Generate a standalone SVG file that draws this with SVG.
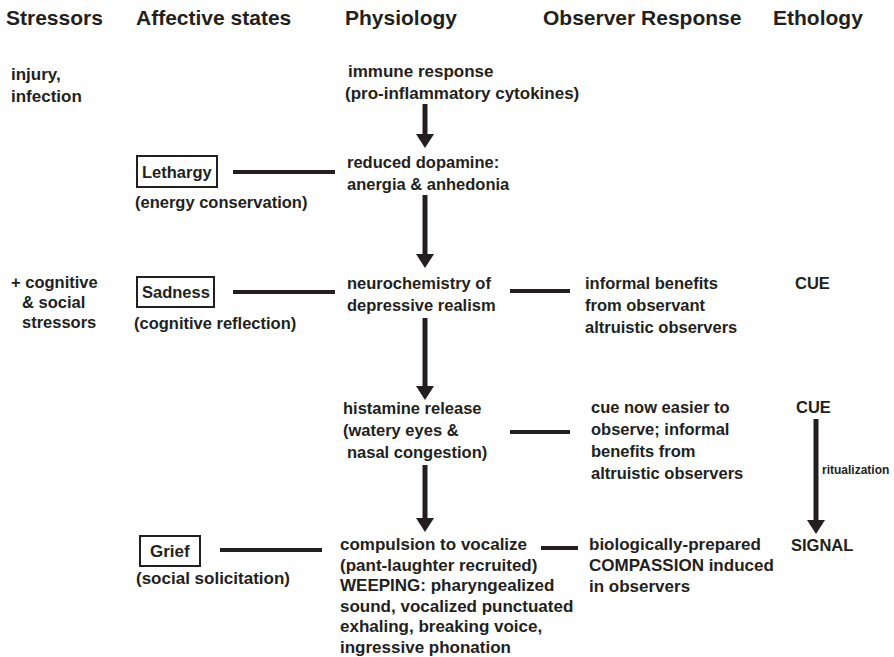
<svg xmlns="http://www.w3.org/2000/svg" width="894" height="657" viewBox="0 0 894 657">
<style>
text{font-family:"Liberation Sans",Arial,Helvetica,sans-serif;font-weight:bold;fill:#231f20}
.h{font-size:21px}
.t{font-size:16.5px}
.c{font-size:17px}
.s{font-size:12px}
.ln{stroke:#231f20;stroke-width:4;fill:none}
.ar{stroke:#231f20;stroke-width:5;fill:none}
.bx{stroke:#231f20;stroke-width:2;fill:#fff}
</style>
<defs>
<marker id="ah" viewBox="0 0 14 18" refX="1" refY="9" markerWidth="14" markerHeight="18" markerUnits="userSpaceOnUse" orient="auto">
<path d="M0,0 L14,9 L0,18 z" fill="#231f20"/>
</marker>
</defs>
<rect width="894" height="657" fill="#fff"/>
<g id="headers">
<text class="h" x="6" y="25">Stressors</text>
<text class="h" x="136" y="25">Affective states</text>
<text class="h" x="345" y="25">Physiology</text>
<text class="h" x="543" y="25">Observer Response</text>
<text class="h" x="773" y="25">Ethology</text>
</g>
<g id="stressor-injury">
<text class="c" x="11" y="80">injury,</text>
<text class="c" x="11" y="102">infection</text>
</g>
<g id="stressor-cognitive">
<text class="t" x="11" y="288">+ cognitive</text>
<text class="t" x="22" y="308">&amp; social</text>
<text class="t" x="22" y="328">stressors</text>
</g>
<g id="lethargy">
<rect class="bx" x="137" y="156" width="80" height="31"/>
<text class="t" x="142" y="178">Lethargy</text>
<text class="t" x="135" y="208">(energy conservation)</text>
</g>
<g id="sadness">
<rect class="bx" x="137" y="277" width="77" height="30"/>
<text class="t" x="142" y="298">Sadness</text>
<text class="t" x="134" y="329">(cognitive reflection)</text>
</g>
<g id="grief">
<rect class="bx" x="140" y="536" width="60" height="30"/>
<text class="c" x="150" y="557">Grief</text>
<text class="c" x="136" y="584">(social solicitation)</text>
</g>
<g id="immune">
<text class="c" x="348" y="77">immune response</text>
<text class="c" x="345" y="99">(pro-inflammatory cytokines)</text>
</g>
<g id="dopamine">
<text class="t" x="347" y="168">reduced dopamine:</text>
<text class="t" x="347" y="190">anergia &amp; anhedonia</text>
</g>
<g id="neurochemistry">
<text class="t" x="347" y="289">neurochemistry of</text>
<text class="t" x="347" y="311">depressive realism</text>
</g>
<g id="histamine">
<text class="t" x="343" y="414">histamine release</text>
<text class="t" x="343" y="436">(watery eyes &amp;</text>
<text class="t" x="347" y="458">nasal congestion)</text>
</g>
<g id="compulsion">
<text class="c" x="340" y="550">compulsion to vocalize</text>
<text class="c" x="340" y="571">(pant-laughter recruited)</text>
<text class="c" x="340" y="591">WEEPING: pharyngealized</text>
<text class="c" x="340" y="612">sound, vocalized punctuated</text>
<text class="c" x="340" y="632">exhaling, breaking voice,</text>
<text class="c" x="340" y="653">ingressive phonation</text>
</g>
<g id="informal">
<text class="t" x="585" y="289">informal benefits</text>
<text class="t" x="585" y="311">from observant</text>
<text class="t" x="585" y="333">altruistic observers</text>
</g>
<g id="cue-easier">
<text class="t" x="591" y="413">cue now easier to</text>
<text class="t" x="591" y="435">observe; informal</text>
<text class="t" x="591" y="457">benefits from</text>
<text class="t" x="591" y="479">altruistic observers</text>
</g>
<g id="compassion">
<text class="c" x="589" y="550">biologically-prepared</text>
<text class="c" x="589" y="571">COMPASSION induced</text>
<text class="c" x="589" y="592">in observers</text>
</g>
<g id="cue1"><text class="t" x="795" y="289">CUE</text></g>
<g id="cue2"><text class="t" x="796" y="413">CUE</text></g>
<g id="signal"><text class="t" x="791" y="551">SIGNAL</text></g>
<g id="connectors">
<line class="ar" x1="425" y1="104" x2="425" y2="135" marker-end="url(#ah)"/>
<line class="ar" x1="425" y1="195" x2="425" y2="255" marker-end="url(#ah)"/>
<line class="ar" x1="425" y1="318" x2="425" y2="387" marker-end="url(#ah)"/>
<line class="ar" x1="425" y1="465" x2="425" y2="519" marker-end="url(#ah)"/>
<line class="ar" x1="816" y1="419" x2="816" y2="521" marker-end="url(#ah)"/>
<text class="s" x="822" y="474">ritualization</text>
<line class="ln" x1="233" y1="172" x2="335" y2="172"/>
<line class="ln" x1="233" y1="292" x2="335" y2="292"/>
<line class="ln" x1="510" y1="291" x2="570" y2="291"/>
<line class="ln" x1="510" y1="432" x2="570" y2="432"/>
<line class="ln" x1="220" y1="550" x2="322" y2="550"/>
<line class="ln" x1="541" y1="548" x2="578" y2="548"/>
</g>
</svg>
